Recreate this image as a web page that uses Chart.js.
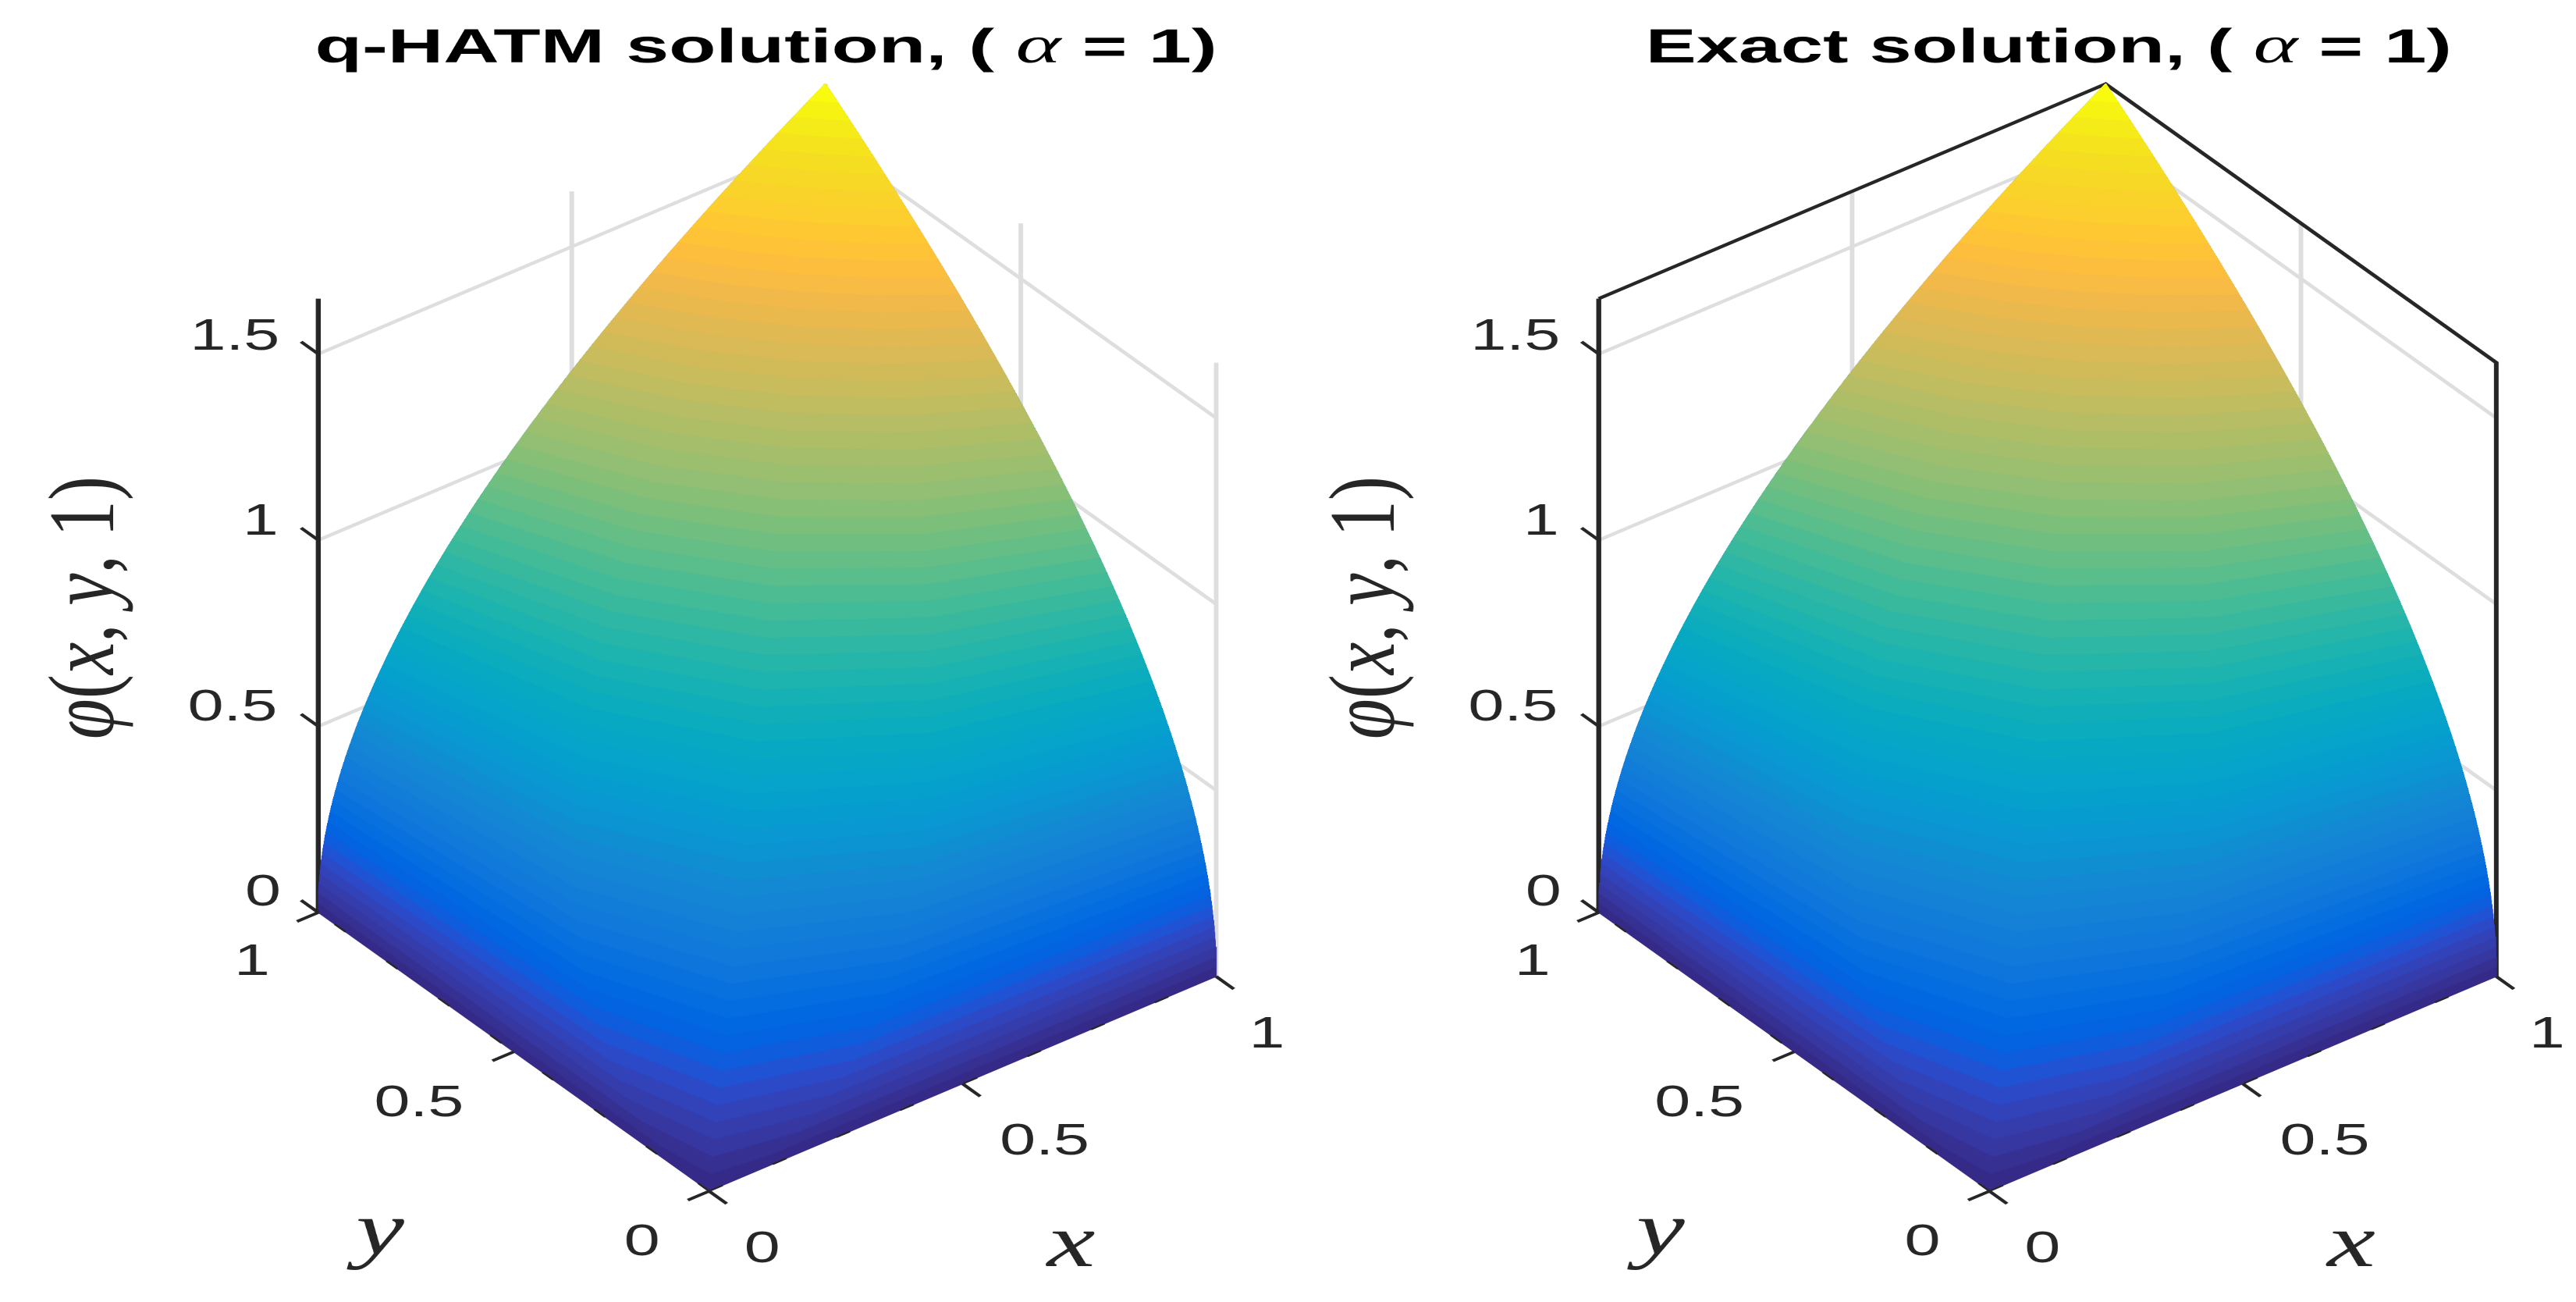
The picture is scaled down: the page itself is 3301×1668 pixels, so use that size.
<!DOCTYPE html>
<html><head><meta charset="utf-8">
<style>
html,body{margin:0;padding:0;background:#fff;width:3301px;height:1668px;overflow:hidden}
canvas{position:absolute;top:0;transform-origin:0 0}
</style>
<script src="https://cdn.jsdelivr.net/npm/chart.js@4"></script>
</head><body>
<canvas id="left"></canvas><canvas id="right"></canvas>
<script>
const titleLeftParts = ["q-HATM solution, ( ", "α", " = 1)"];
const titleRightParts = ["Exact solution, ( ", "α", " = 1)"];
const xTicks = [0, 0.5, 1];
const yTicks = [0, 0.5, 1];
const zTicks = [0, 0.5, 1, 1.5];
const xTickLabels = ["0", "0.5", "1"];
const yTickLabels = ["0", "0.5", "1"];
const zTickLabels = ["0", "0.5", "1", "1.5"];
const zTop = 1.6487;
// contour levels of the surface: height, and points along each contour
const levelZ = [0,.0258,.0515,.0773,.103,.1288,.1546,.1803,.2061,.2318,.2576,.2834,.3091,.3349,.3606,.3864,.4122,.4379,.4637,.4894,.5152,.541,.5667,.5925,.6182,.644,.6698,.6955,.7213,.747,.7728,.7986,.8243,.8501,.8758,.9016,.9274,.9531,.9789,1.0046,1.0304,1.0562,1.0819,1.1077,1.1334,1.1592,1.185,1.2107,1.2365,1.2622,1.288,1.3138,1.3395,1.3653,1.391,1.4168,1.4426,1.4683,1.4941,1.5198,1.5456,1.5714,1.5971,1.6229];
const contourK = [0,.00024,.00098,.0022,.0039,.0061,.0088,.012,.0156,.0198,.0244,.0295,.0352,.0413,.0479,.0549,.0625,.0706,.0791,.0881,.0977,.1077,.1182,.1292,.1406,.1526,.165,.178,.1914,.2053,.2197,.2346,.25,.2659,.2822,.2991,.3164,.3342,.3525,.3713,.3906,.4104,.4307,.4514,.4727,.4944,.5166,.5393,.5625,.5862,.6104,.635,.6602,.6858,.7119,.7385,.7656,.7932,.8213,.8499,.8789,.9084,.9385,.969];
const contourB = [0,.00195,.00552,.01015,.0156,.0218,.0287,.0362,.0442,.0527,.0618,.0713,.0812,.0915,.1023,.1135,.125,.1369,.1492,.1618,.1747,.1879,.2016,.2155,.2297,.2441,.259,.274,.2894,.305,.321,.3371,.3536,.3703,.3873,.4044,.4219,.4395,.4576,.4757,.4941,.5127,.5317,.5508,.5701,.5896,.6094,.6294,.6495,.6699,.6906,.7114,.7324,.7536,.7751,.7967,.8185,.8405,.8628,.8851,.9077,.9305,.9536,.9767];
const contourS = [0,.0156,.0313,.0469,.0625,.0781,.0938,.1094,.125,.1406,.1563,.1719,.1875,.2031,.2188,.2344,.25,.2656,.2813,.2969,.3125,.3281,.3438,.3594,.375,.3906,.4063,.4219,.4375,.4531,.4688,.4844,.5,.5156,.5313,.5469,.5625,.5781,.5938,.6094,.625,.6406,.6563,.6719,.6875,.7031,.7188,.7344,.75,.7656,.7813,.7969,.8125,.8281,.8438,.8594,.875,.8906,.9063,.9219,.9375,.9531,.9688,.9844];
const contourA = [0,.125,.1768,.2165,.25,.2795,.3062,.3307,.3536,.375,.3953,.4146,.433,.4507,.4677,.4841,.5,.5154,.5303,.5449,.559,.5728,.5863,.5995,.6124,.625,.6374,.6495,.6614,.6731,.6847,.696,.7071,.7181,.7289,.7395,.75,.7603,.7706,.7806,.7906,.8004,.8101,.8197,.8292,.8385,.8478,.857,.866,.875,.8839,.8927,.9014,.91,.9186,.927,.9354,.9437,.952,.9601,.9682,.9763,.9843,.9922];
const parula = [
[.2081,.1663,.5292],[.2116,.1898,.5777],[.2123,.2138,.6270],[.2081,.2386,.6771],[.1959,.2645,.7279],[.1707,.2919,.7792],[.1253,.3242,.8303],[.0591,.3598,.8683],
[.0117,.3875,.8820],[.0060,.4086,.8828],[.0165,.4266,.8786],[.0329,.4430,.8720],[.0498,.4586,.8641],[.0629,.4737,.8554],[.0723,.4887,.8467],[.0779,.5040,.8384],
[.0793,.5200,.8312],[.0749,.5375,.8263],[.0641,.5570,.8240],[.0488,.5772,.8228],[.0343,.5966,.8199],[.0265,.6137,.8135],[.0239,.6287,.8038],[.0231,.6418,.7913],
[.0228,.6535,.7768],[.0267,.6642,.7607],[.0384,.6743,.7436],[.0590,.6838,.7254],[.0843,.6928,.7062],[.1133,.7015,.6859],[.1453,.7098,.6646],[.1801,.7177,.6424],
[.2178,.7250,.6193],[.2586,.7317,.5954],[.3022,.7376,.5712],[.3482,.7424,.5473],[.3953,.7459,.5244],[.4420,.7481,.5033],[.4871,.7491,.4840],[.5300,.7491,.4661],
[.5709,.7485,.4494],[.6099,.7473,.4337],[.6473,.7456,.4188],[.6834,.7435,.4044],[.7184,.7411,.3905],[.7525,.7384,.3768],[.7858,.7356,.3633],[.8185,.7327,.3498],
[.8507,.7299,.3360],[.8824,.7274,.3217],[.9139,.7258,.3063],[.9450,.7261,.2886],[.9739,.7314,.2666],[.9938,.7455,.2403],[.9990,.7653,.2164],[.9955,.7861,.1967],
[.9880,.8066,.1794],[.9789,.8271,.1633],[.9697,.8481,.1475],[.9626,.8705,.1309],[.9589,.8949,.1132],[.9598,.9218,.0948],[.9661,.9514,.0755],[.9763,.9831,.0538]];

const STRETCH = 1.45, H = 1668;
const DARK = '#262626', GREY = '#dedede';
const toCss = c => `rgb(${Math.round(c[0]*255)},${Math.round(c[1]*255)},${Math.round(c[2]*255)})`;
// view of the 3D box onto the flat chart scales
const P = (x, y, z) => ({x: 909 + 650*x - 501*y, y: 1526 - 275*x - 357*y - 477*z});

function surfaceDatasets(){
  const out = [];
  for (let i = levelZ.length - 1; i >= 0; i--){
    const z = levelZ[i], k = contourK[i], b = contourB[i], s = contourS[i], a = contourA[i];
    const pts = [P(1,k,z), P(a,b,z), P(s,s,z), P(b,a,z), P(k,1,z)];
    for (let j = i+1; j < levelZ.length; j++) pts.push(P(contourK[j],1,levelZ[j]));
    pts.push(P(1,1,zTop));
    for (let j = levelZ.length-1; j > i; j--) pts.push(P(1,contourK[j],levelZ[j]));
    pts.push(pts[0]);
    const col = toCss(parula[i]);
    out.push({data: pts, showLine: true, fill: 'shape', backgroundColor: col, borderColor: col,
      borderWidth: 1, borderJoinStyle: 'round', pointRadius: 0, tension: 0});
  }
  return out;
}
const line = (pts, color, w, dash) => ({data: pts, showLine: true, fill: false, borderColor: color,
  borderWidth: w, borderDash: dash || [], pointRadius: 0, tension: 0, borderCapStyle: 'butt'});

function buildDatasets(boxed){
  const front = [], back = [];
  // dashes where the axis lines fight with the surface edge
  front.push(line([P(0,0,0),P(1,0,0)], DARK, 2, [14,52]));
  front.push(line([P(0,0,0),P(0,1,0)], DARK, 2, [14,52]));
  xTicks.forEach(t => front.push(line([P(t,0,0),P(t,-.045,0)], DARK, 3.5)));
  yTicks.forEach(t => front.push(line([P(0,t,0),P(-.042,t,0)], DARK, 3.5)));
  zTicks.forEach(t => front.push(line([P(0,1,t),P(0,1.044,t)], DARK, 3.5)));
  // z axis
  back.push(line([P(0,1,0),P(0,1,zTop)], DARK, 4.5));
  if (boxed){
    back.push(line([P(0,1,zTop),P(1,1,zTop),P(1,0,zTop),P(1,0,0)], DARK, 4));
  }
  // grid on the back walls
  zTicks.forEach(t => back.push(line([P(0,1,t),P(1,1,t),P(1,0,t)], GREY, 4)));
  xTicks.filter(t => t > 0).forEach(t => back.push(line([P(t,1,0),P(t,1,zTop)], GREY, 4)));
  yTicks.filter(t => t < 1).forEach(t => back.push(line([P(1,t,0),P(1,t,zTop)], GREY, 4)));
  return [...front, ...surfaceDatasets(), ...back];
}

function textPlugin(parts, titleWidth, titleCenter){
  return {id:'panelText', afterDraw(chart){
    const c = chart.ctx, sx = v => chart.scales.x.getPixelForValue(v), sy = v => chart.scales.y.getPixelForValue(v);
    c.save();
    c.fillStyle = DARK; c.textBaseline = 'alphabetic'; c.textAlign = 'center';
    const tick = (t, x, y) => { c.font = '57px "Liberation Sans"'; c.fillText(t, sx(x), sy(y+20)); };
    const zPos = [[337,1140],[298,903],[334,665],[301,428]];
    zTickLabels.forEach((t,i) => tick(t, zPos[i][0], zPos[i][1]));
    const yPos = [[823,1588],[537,1410],[323,1229]];
    yTickLabels.forEach((t,i) => tick(t, yPos[i][0], yPos[i][1]));
    const xPos = [[977,1597],[1339,1459],[1624,1322]];
    xTickLabels.forEach((t,i) => tick(t, xPos[i][0], xPos[i][1]));
    c.font = 'italic 96px "Liberation Serif"';
    c.fillText('y', sx(487), sy(1606));
    c.fillText('x', sx(1373), sy(1622));
    // rotated label
    const runs = [['φ','italic'],['(',''],['x','italic'],[', ',''],['y','italic'],[', ',''],['1',''],[')','']];
    c.save();
    c.translate(sx(145), sy(947));
    c.rotate(-Math.PI/2);
    let w = 0;
    runs.forEach(r => { c.font = `${r[1]} 100px "Liberation Serif"`; w += c.measureText(r[0]).width; });
    c.scale(337/w, .83);
    c.textAlign = 'left';
    let px = 0;
    runs.forEach(r => { c.font = `${r[1]} 100px "Liberation Serif"`; c.fillText(r[0], px, 0); px += c.measureText(r[0]).width; });
    c.restore();
    // title
    c.fillStyle = '#000'; c.textAlign = 'left';
    const fonts = ['bold 61px "Liberation Sans"', 'italic 68px "Liberation Serif"', 'bold 61px "Liberation Sans"'];
    let tw = 0;
    parts.forEach((t,i) => { c.font = fonts[i]; tw += c.measureText(t).width; });
    c.save();
    c.translate(sx(titleCenter), sy(80));
    const fit = titleWidth/STRETCH/tw;
    c.scale(fit, 1);
    let tx = -tw/2;
    parts.forEach((t,i) => { c.font = fonts[i]; c.fillText(t, tx, 0); tx += c.measureText(t).width; });
    c.restore();
    c.restore();
  }};
}

function make(id, left, realWidth, boxed, parts, tw, tc){
  const el = document.getElementById(id);
  el.style.left = left + 'px';
  const w = realWidth / STRETCH;
  el.width = w; el.height = H;
  const chart = new Chart(el, {
    type: 'scatter',
    data: {datasets: buildDatasets(boxed)},
    options: {
      responsive: false, animation: false, devicePixelRatio: 2,
      layout: {padding: 0},
      plugins: {legend: {display: false}, tooltip: {enabled: false}, title: {display: false}},
      scales: {
        x: {type: 'linear', display: false, min: 0, max: realWidth},
        y: {type: 'linear', display: false, min: 0, max: H, reverse: true}
      }
    },
    plugins: [textPlugin(parts, tw, tc)]
  });
  el.style.transform = `scaleX(${STRETCH})`;
  return chart;
}
make('left', 0, 1700, false, titleLeftParts, 1156, 982);
make('right', 1641, 1660, true, titleRightParts, 1033, 985);
</script>
</body></html>
